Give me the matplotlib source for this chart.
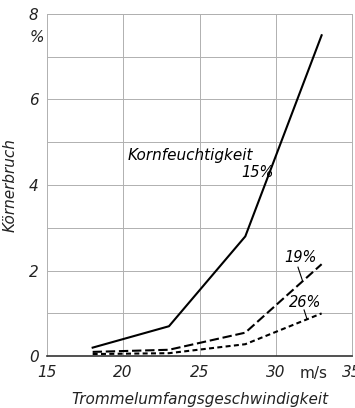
import matplotlib
matplotlib.use("Agg")
import matplotlib.pyplot as plt

# Trommelumfangsgeschwindigkeit (m/s)
speed = [18, 23, 28, 33]
# Koernerbruch (%) je Kornfeuchtigkeit
bruch_15 = [0.2, 0.7, 2.8, 7.5]
bruch_19 = [0.1, 0.15, 0.55, 2.15]
bruch_26 = [0.05, 0.07, 0.28, 1.0]

x_ticks = [15, 20, 25, 30, 35]
y_ticks = [0, 2, 4, 6, 8]

plt.rcParams['font.family'] = ['DejaVu Sans']
plt.rcParams['font.style'] = 'italic'

fig = plt.figure(figsize=(3.55, 4.08), dpi=100)
ax = fig.add_axes([0.132, 0.127, 0.860, 0.839])

ax.plot(speed, bruch_15, color="black", lw=1.5)
ax.plot(speed, bruch_19, color="black", lw=1.5, dashes=(4.5, 1.8))
ax.plot(speed, bruch_26, color="black", lw=1.5, dashes=(2.4, 1.6))

ax.set_xlim(15, 35)
ax.set_ylim(0, 8)

# Gitter
for yv in range(1, 9):
    ax.axhline(yv, color="#b0b0b0", lw=0.7, zorder=0)
for xv in [20, 25, 30]:
    ax.axvline(xv, color="#b0b0b0", lw=0.7, zorder=0)

for s in ["top", "right", "left"]:
    ax.spines[s].set_color("#b0b0b0")
    ax.spines[s].set_linewidth(0.7)
ax.spines["bottom"].set_color("#333333")
ax.spines["bottom"].set_linewidth(1.2)

ax.set_xticks(x_ticks)
ax.set_yticks(y_ticks)
ax.tick_params(length=0, labelsize=11, pad=6, labelcolor="#222222")
ax.set_xticklabels([str(t) for t in x_ticks])
ax.set_yticklabels([str(t) for t in y_ticks])

ax.text(32.5, -0.05, "m/s", transform=ax.get_xaxis_transform(), ha="center",
        va="center", fontsize=11, style="normal", color="#222222")
ax.text(-0.033, 7.45, "%", transform=ax.get_yaxis_transform(), ha="center",
        va="center", fontsize=11, color="#222222")

ax.set_xlabel("Trommelumfangsgeschwindigkeit", fontsize=11, labelpad=9,
              color="#222222")
ax.set_ylabel("Körnerbruch", fontsize=11, labelpad=8, color="#222222")

ax.text(20.3, 4.7, "Kornfeuchtigkeit", fontsize=11, ha="left", va="center")
ax.text(28.8, 4.3, "15%", fontsize=10.5, ha="center", va="center")
ax.text(31.6, 2.3, "19%", fontsize=10.5, ha="center", va="center")
ax.text(31.9, 1.25, "26%", fontsize=10.5, ha="center", va="center")
ax.plot([31.45, 31.75], [2.08, 1.76], color="black", lw=0.8)
ax.plot([31.85, 32.05], [1.08, 0.86], color="black", lw=0.8)

fig.savefig("out.png", dpi=100)
